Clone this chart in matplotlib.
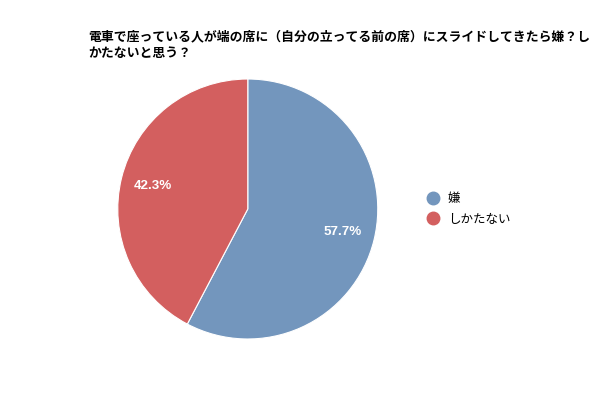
import matplotlib.pyplot as plt
from matplotlib.lines import Line2D

plt.rcParams['font.family'] = ['Noto Sans CJK JP', 'DejaVu Sans']

title = '電車で座っている人が端の席に（自分の立ってる前の席）にスライドしてきたら嫌？し\nかたないと思う？'
labels = ['嫌', 'しかたない']
values = [57.7, 42.3]
colors = ['#7396bd', '#d35f5f']

fig = plt.figure(figsize=(6, 4), dpi=100)
ax = fig.add_axes([0.413 - 0.2167, 0.4775 - 0.325, 0.4333, 0.65])
wedges, texts, autotexts = ax.pie(values, colors=colors, startangle=90, counterclock=False,
                                  autopct='%.1f%%', pctdistance=0.75,
                                  wedgeprops=dict(edgecolor='white', linewidth=0.8))
for t in autotexts:
    t.set_color('white')
    t.set_fontsize(9.6)
    t.set_fontweight('bold')
    t.set_family(['Liberation Sans', 'DejaVu Sans'])
ax.set_xlim(-1, 1)
ax.set_ylim(-1, 1)
ax.set_aspect('equal')

fig.text(88 / 600, 1 - 29 / 400, title, fontsize=9.25, fontweight='bold', va='top', ha='left',
         linespacing=1.3)

handles = [Line2D([0], [0], marker='o', linestyle='', markersize=9, markerfacecolor=c,
                  markeredgecolor=c) for c in colors]
fig.legend(handles, labels, loc='center left', bbox_to_anchor=(409 / 600, 1 - 209 / 400),
           frameon=False, fontsize=9, handletextpad=0.2, labelspacing=0.6)

fig.savefig('out.png')
